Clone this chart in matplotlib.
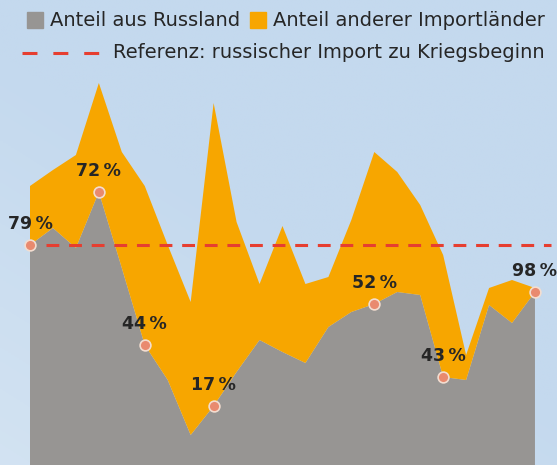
import numpy as np
import matplotlib
matplotlib.use("Agg")
import matplotlib.pyplot as plt
from matplotlib.patches import Rectangle
from matplotlib.lines import Line2D

# Monatswerte ab Kriegsbeginn (Index 0 = Kriegsbeginn)
monate = list(range(23))
anteil_russland = [110, 118.5, 108.5, 136.5, 98.5, 60, 42.5, 15, 29.5, 46.5, 62.5, 56.5,
                   51, 69, 76.5, 80.5, 86.5, 85, 44, 42.5, 80, 71, 86.5]
anteil_andere = [29.5, 29, 46.5, 54.5, 58, 79.5, 67.5, 66.5, 151.5, 75, 28, 63,
                 39.5, 25, 46, 76, 60, 45, 61, 12.5, 8.5, 21.5, 2]

# markierte Monate und ihre Beschriftung (Anteil Russland am Gesamtimport)
marker_idx = [0, 3, 5, 8, 15, 18, 22]
marker_text = ["79\u2009%", "72\u2009%", "44\u2009%", "17\u2009%", "52\u2009%", "43\u2009%", "98\u2009%"]

legende = ["Anteil aus Russland", "Anteil anderer Importländer",
           "Referenz: russischer Import zu Kriegsbeginn"]

GRAU = "#979593"
ORANGE = "#f7a600"
ROT = "#e63e30"
PUNKT = "#e98a6f"
TEXT = "#262626"

plt.rcParams["font.family"] = ["DejaVu Sans"]

fig = plt.figure(figsize=(5.57, 4.65), dpi=100)

# Hintergrund mit leichtem Verlauf
bg = fig.add_axes([0, 0, 1, 1], zorder=0)
xx, yy = np.meshgrid(np.linspace(0, 1, 200), np.linspace(0, 1, 200))
t = np.clip((1 - xx) * 0.6 + yy * 0.8 - 0.7, 0, 1)  # yy=1 unten
oben = np.array([0xc4, 0xd9, 0xee]) / 255
unten = np.array([0xd9, 0xe7, 0xf4]) / 255
img = oben[None, None, :] * (1 - t[..., None]) + unten[None, None, :] * t[..., None]
bg.imshow(img, aspect="auto", extent=(0, 1, 0, 1))
bg.set_axis_off()

ax = fig.add_axes([0, 0, 1, 1], zorder=1)
ax.patch.set_alpha(0)
ax.stackplot(monate, anteil_russland, anteil_andere, colors=[GRAU, ORANGE], linewidth=0)

# Referenzlinie: russischer Import zu Kriegsbeginn
ax.hlines(anteil_russland[0], 0.7, 22.7, colors=ROT, linewidth=2.2,
          linestyles=(0, (4.2, 3.2)), zorder=3)

mx = [monate[i] for i in marker_idx]
my = [anteil_russland[i] for i in marker_idx]
ax.scatter(mx, my, s=60, color=PUNKT, edgecolor="#f3ddd0", linewidth=1.2, zorder=4)
for x, y, txt in zip(mx, my, marker_text):
    ax.annotate(txt, (x, y), xytext=(0, 8.5), textcoords="offset points",
                ha="center", va="bottom", fontsize=12.5, fontweight="bold", color=TEXT, zorder=5)

ax.set_xlim(-1.307, 22.96)
ax.set_ylim(0, 232.5)
ax.set_axis_off()

# Legende von Hand gesetzt
fig.patches.append(Rectangle((27 / 557, 1 - 28 / 465), 16 / 557, 16 / 465,
                             transform=fig.transFigure, color=GRAU))
fig.text(50 / 557, 1 - 20 / 465, legende[0], fontsize=14, color=TEXT, va="center")
fig.patches.append(Rectangle((250 / 557, 1 - 28 / 465), 16 / 557, 16 / 465,
                             transform=fig.transFigure, color=ORANGE))
fig.text(273 / 557, 1 - 20 / 465, legende[1], fontsize=14, color=TEXT, va="center")
fig.lines.append(Line2D([22 / 557, 100 / 557], [1 - 53 / 465, 1 - 53 / 465],
                        transform=fig.transFigure, color=ROT, linewidth=2.2,
                        linestyle=(0, (4.9, 5.2))))
fig.text(113 / 557, 1 - 53 / 465, legende[2], fontsize=14, color=TEXT, va="center")

fig.savefig("out.png", dpi=100)
